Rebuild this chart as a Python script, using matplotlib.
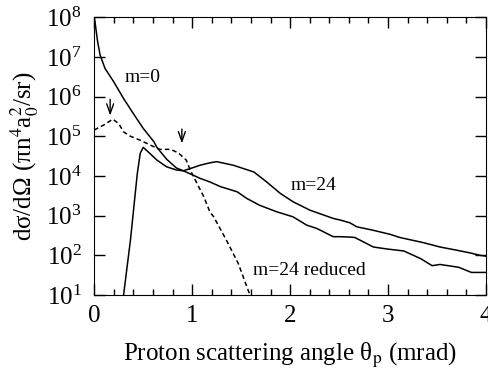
import matplotlib
matplotlib.use('Agg')
import matplotlib.pyplot as plt
import numpy as np
from matplotlib.ticker import FixedLocator, MultipleLocator, LogFormatterMathtext

plt.rcParams['font.family'] = ['Liberation Serif', 'DejaVu Serif']
plt.rcParams['mathtext.fontset'] = 'stix'

# m=0 curve (angle in mrad, log10 of cross section)
m0_x = [0.0, 0.01, 0.034, 0.06, 0.11, 0.20, 0.30, 0.40, 0.50, 0.61, 0.64, 0.74, 0.84,
        0.91, 1.01, 1.08, 1.18, 1.29, 1.46, 1.56, 1.69, 1.86, 2.03, 2.17, 2.27, 2.44,
        2.51, 2.61, 2.66, 2.85, 2.99, 3.16, 3.33, 3.45, 3.53, 3.72, 3.85, 4.0]
m0_log = [8.0, 7.85, 7.4, 7.05, 6.71, 6.37, 5.95, 5.57, 5.20, 4.86, 4.72, 4.42, 4.20,
          4.13, 4.02, 3.94, 3.85, 3.73, 3.60, 3.43, 3.26, 3.10, 2.97, 2.76, 2.68, 2.47,
          2.47, 2.46, 2.45, 2.21, 2.16, 2.11, 1.92, 1.74, 1.77, 1.70, 1.57, 1.57]

# m=24 curve
m24_x = [0.30, 0.37, 0.44, 0.47, 0.50, 0.55, 0.64, 0.74, 0.84, 0.91, 1.01, 1.08, 1.18,
         1.25, 1.42, 1.63, 1.76, 1.90, 2.03, 2.20, 2.44, 2.51, 2.61, 2.68, 2.85, 3.02,
         3.12, 3.36, 3.53, 3.70, 3.84, 3.94, 4.0]
m24_log = [1.0, 2.38, 4.06, 4.57, 4.72, 4.61, 4.40, 4.23, 4.15, 4.13, 4.21, 4.27, 4.33,
           4.36, 4.27, 4.10, 3.85, 3.56, 3.35, 3.14, 2.93, 2.89, 2.82, 2.72, 2.63, 2.53,
           2.45, 2.32, 2.21, 2.13, 2.06, 2.0, 1.98]

# m=24 reduced curve
red_x = [0.0, 0.01, 0.095, 0.19, 0.25, 0.30, 0.37, 0.47, 0.57, 0.67, 0.78, 0.86, 0.94,
         0.98, 1.05, 1.12, 1.18, 1.22, 1.35, 1.47, 1.59]
red_log = [5.15, 5.17, 5.28, 5.43, 5.32, 5.11, 5.0, 4.90, 4.78, 4.67, 4.67, 4.58, 4.40,
           4.15, 3.81, 3.47, 3.10, 2.97, 2.38, 1.80, 1.0]

fig = plt.figure(figsize=(4.88, 3.73), dpi=100)
ax = fig.add_axes([0.193, 0.209, 0.803, 0.745])

ax.plot(m0_x, 10 ** np.array(m0_log), color='black', lw=1.1)
ax.plot(m24_x, 10 ** np.array(m24_log), color='black', lw=1.1)
ax.plot(red_x, 10 ** np.array(red_log), color='black', lw=1.1, ls=(0, (3, 2)))

ax.set_yscale('log')
ax.set_xlim(0, 4)
ax.set_ylim(10, 1e8)
ax.yaxis.set_major_locator(FixedLocator([10 ** k for k in range(1, 9)]))
ax.yaxis.set_minor_locator(FixedLocator([]))
ax.yaxis.set_major_formatter(LogFormatterMathtext())
ax.xaxis.set_major_locator(MultipleLocator(1))
ax.xaxis.set_minor_locator(MultipleLocator(0.2))
ax.tick_params(which='both', direction='in', top=True, right=True, labelsize=18, width=1)
ax.tick_params(which='major', length=8)
ax.tick_params(which='minor', length=4)
ax.tick_params(axis='x', pad=7)
ax.tick_params(axis='y', pad=9)

# arrows marking peaks
arrow = dict(arrowstyle='->,head_length=0.7,head_width=0.25', color='black', lw=1.0)
ax.annotate('', xy=(0.163, 10 ** 5.45), xytext=(0.163, 10 ** 6.0), arrowprops=arrow)
ax.annotate('', xy=(0.895, 10 ** 4.75), xytext=(0.895, 10 ** 5.25), arrowprops=arrow)

ax.text(0.49, 10 ** 6.49, 'm=0', fontsize=14, ha='center', va='center')
ax.text(2.24, 10 ** 3.77, 'm=24', fontsize=14, ha='center', va='center')
ax.text(1.62, 10 ** 1.63, 'm=24 reduced', fontsize=14, ha='left', va='center')

ax.set_xlabel('Proton scattering angle θ$_{\\rm p}$ (mrad)', fontsize=18, labelpad=10)
ax.set_ylabel('dσ/dΩ (πn$^4$a$_0^2$/sr)', fontsize=18, labelpad=4)

fig.savefig('out.png', dpi=100)
